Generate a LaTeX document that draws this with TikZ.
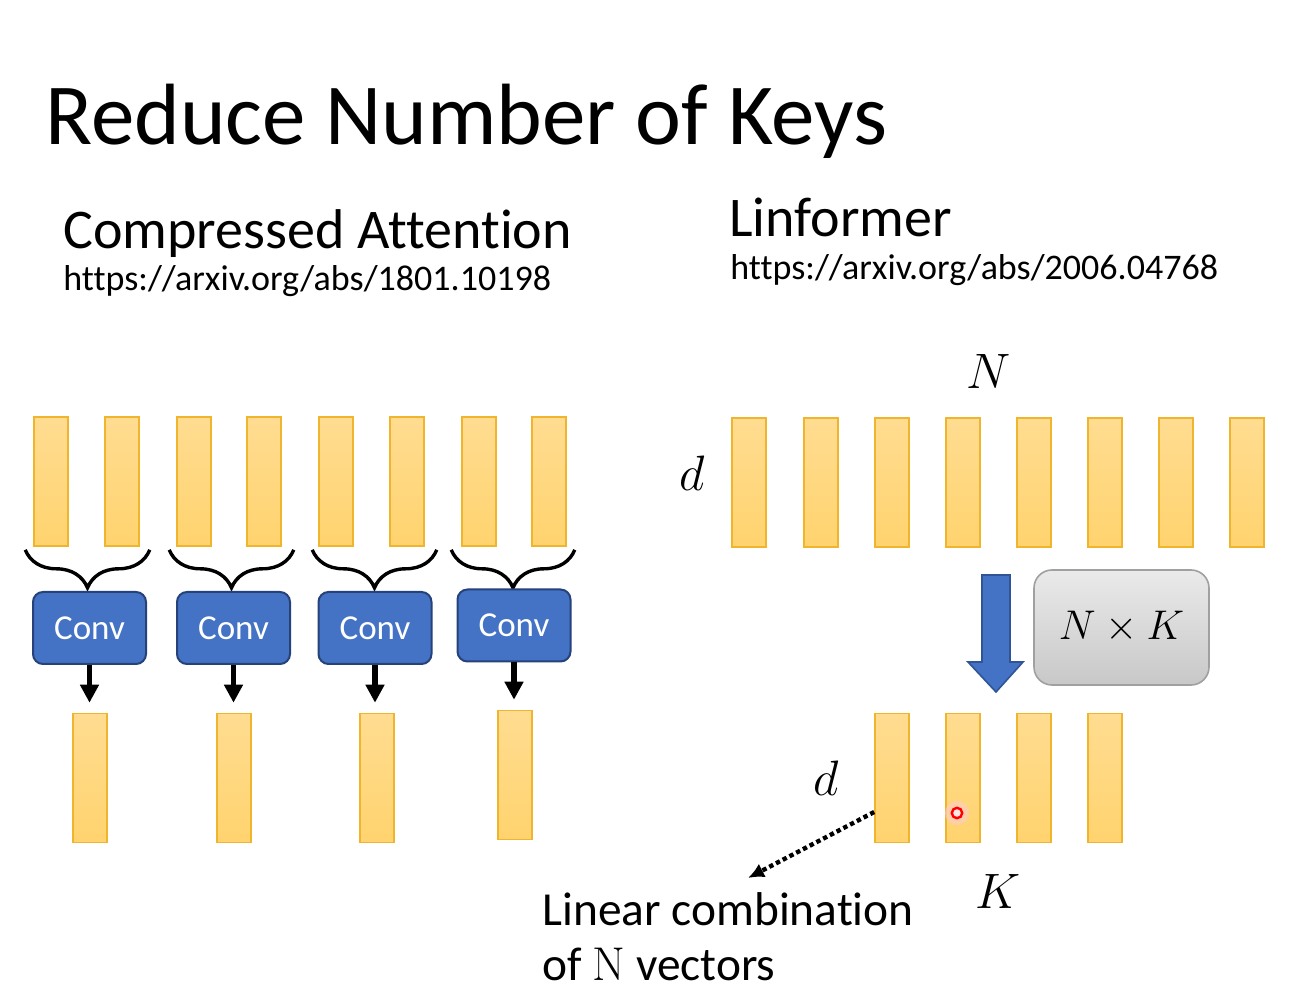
\documentclass[tikz,border=0pt]{standalone}
\usepackage{fontspec}
\setmainfont{Carlito}[Ligatures=NoCommon]
\usetikzlibrary{arrows.meta,positioning,decorations.pathreplacing}
\definecolor{BarTop}{RGB}{255,220,145}
\definecolor{BarBottom}{RGB}{255,211,110}
\definecolor{BarEdge}{RGB}{240,180,45}
\definecolor{ConvBlue}{RGB}{68,114,196}
\definecolor{ConvEdge}{RGB}{38,66,122}
\definecolor{ArrowEdge}{RGB}{47,85,151}
\definecolor{ProjTop}{RGB}{234,234,234}
\definecolor{ProjBottom}{RGB}{200,200,200}
\definecolor{ProjEdge}{RGB}{160,160,160}
\tikzset{
  title/.style={anchor=base west,inner sep=0pt,font=\fontsize{43.5}{52}\selectfont},
  heading/.style={anchor=base west,inner sep=0pt,font=\fontsize{28}{33}\selectfont},
  link/.style={anchor=base west,inner sep=0pt,font=\fontsize{18}{21}\selectfont},
  keybar/.style={draw=BarEdge,line width=0.8pt,top color=BarTop,bottom color=BarBottom,
    minimum width=17pt,minimum height=64.5pt,inner sep=0pt},
  convbox/.style={draw=ConvEdge,line width=1pt,fill=ConvBlue,rounded corners=5pt,
    minimum width=56.5pt,minimum height=36pt,text=white,font=\fontsize{17.5}{21}\selectfont},
  projbox/.style={draw=ProjEdge,line width=0.8pt,top color=ProjTop,bottom color=ProjBottom,
    rounded corners=9pt,minimum width=87.5pt,minimum height=57.5pt,font=\fontsize{21}{25}\selectfont},
  symbol/.style={inner sep=0pt,font=\fontsize{28}{34}\selectfont},
  note/.style={anchor=north west,inner sep=0pt,align=left,font=\fontsize{23.7}{27.5}\selectfont},
  pairbrace/.style={decorate,decoration={brace,mirror,amplitude=19pt},line width=1.7pt},
  convarrow/.style={-{Triangle[width=9pt,length=9pt]},line width=2.6pt},
  dotarrow/.style={-{Latex[length=8pt,width=7.5pt]},line width=2.2pt,dash pattern=on 2.2pt off 1.6pt}
}

\begin{document}
\begin{tikzpicture}[x=0.5pt,y=-0.5pt]
  \fill[white] (0,0) rectangle (1301,1004);
  \useasboundingbox (0,0) rectangle (1301,1004);
  % Titles
  \node[title] (head) at (45,145) {Reduce Number of Keys};
  \node[heading] (cmp) at (63,249) {Compressed Attention};
  \node[link] (cmpurl) at (63,291) {https://arxiv.org/abs/1801.10198};
  \node[heading] (lin) at (729,237) {Linformer};
  \node[link] (linurl) at (730,280) {https://arxiv.org/abs/2006.04768};
  % Compressed attention: keys
  \node[keybar] (ka1) at (51,481.5) {};
  \node[keybar] (ka2) at (122,481.5) {};
  \node[keybar] (ka3) at (194,481.5) {};
  \node[keybar] (ka4) at (264,481.5) {};
  \node[keybar] (ka5) at (336,481.5) {};
  \node[keybar] (ka6) at (407,481.5) {};
  \node[keybar] (ka7) at (479,481.5) {};
  \node[keybar] (ka8) at (549,481.5) {};
  \draw[pairbrace] ([xshift=-4pt,yshift=-1.5pt]ka1.south west) -- ([xshift=5pt,yshift=-1.5pt]ka2.south east);
  \draw[pairbrace] ([xshift=-3.5pt,yshift=-1.5pt]ka3.south west) -- ([xshift=6pt,yshift=-1.5pt]ka4.south east);
  \draw[pairbrace] ([xshift=-3pt,yshift=-1.5pt]ka5.south west) -- ([xshift=6pt,yshift=-1.5pt]ka6.south east);
  \draw[pairbrace] ([xshift=-5pt,yshift=-1.5pt]ka7.south west) -- ([xshift=4pt,yshift=-1.5pt]ka8.south east);
  % Conv blocks
  \node[convbox] (conv1) at (89.5,628) {Conv};
  \node[convbox] (conv2) at (233.5,628) {Conv};
  \node[convbox] (conv3) at (375,628) {Conv};
  \node[convbox] (conv4) at (514,625.5) {Conv};
  % Compressed keys
  \node[keybar] (ca1) at (90,778) {};
  \node[keybar] (ca2) at (234,778) {};
  \node[keybar] (ca3) at (377,778) {};
  \node[keybar] (ca4) at (515,775) {};
  \draw[convarrow] (conv1.south) -- ([yshift=5pt]conv1.south |- ca1.north);
  \draw[convarrow] (conv2.south) -- ([yshift=5pt]conv2.south |- ca2.north);
  \draw[convarrow] (conv3.south) -- ([yshift=5pt]conv3.south |- ca3.north);
  \draw[convarrow] (conv4.south) -- ([yshift=5pt]conv4.south |- ca4.north);
  % Linformer: N keys
  \node[symbol] (nsym) at (989,372) {$N$};
  \node[symbol] (dsym) at (692,473) {$d$};
  \node[keybar] (kb1) at (749,482.5) {};
  \node[keybar] (kb2) at (821,482.5) {};
  \node[keybar] (kb3) at (892,482.5) {};
  \node[keybar] (kb4) at (963,482.5) {};
  \node[keybar] (kb5) at (1034,482.5) {};
  \node[keybar] (kb6) at (1105,482.5) {};
  \node[keybar] (kb7) at (1176,482.5) {};
  \node[keybar] (kb8) at (1247,482.5) {};
  % projection
  \draw[draw=ArrowEdge,fill=ConvBlue,line width=0.8pt]
    (982,575) -- (1010,575) -- (1010,662) -- (1023,662) -- (996,692) -- (968,662) -- (982,662) -- cycle;
  \node[projbox] (proj) at (1121.5,627.5) {$N \times K$};
  % K keys
  \node[keybar] (cb1) at (892,778) {};
  \node[keybar] (cb2) at (963,778) {};
  \node[keybar] (cb3) at (1034,778) {};
  \node[keybar] (cb4) at (1105,778) {};
  \node[symbol] (dsym2) at (826,778) {$d$};
  \node[symbol] (ksym) at (998,891) {$K$};
  \coordinate (tip) at (748,878);
  \draw[dotarrow] ([yshift=-17pt]cb1.west) -- (tip);
  \node[note] (comb) at (542,892) {Linear combination\\of {\fontfamily{lmr}\selectfont N} vectors};
  % pointer
  \fill[red!20,opacity=0.6] (957,813) circle (6pt);
  \draw[red,line width=1.2pt,fill=red!10] (957,813) circle (2.6pt);
\end{tikzpicture}
\end{document}
